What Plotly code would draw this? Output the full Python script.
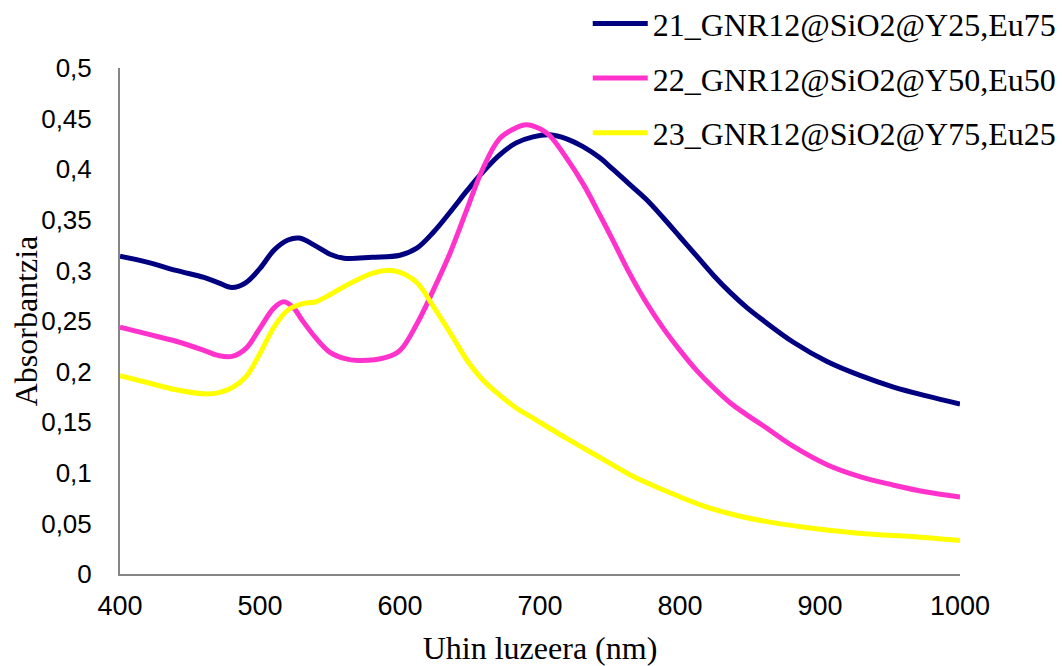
import plotly.graph_objects as go

# ---- data ----
wl_21 = [400, 420, 440, 460, 470, 480, 490, 500, 510, 520, 528, 540, 550, 560, 580, 600,
         612, 624, 636, 648, 659, 671, 683, 695, 707, 719, 731, 743, 752, 764, 776,
         788, 800, 812, 824, 836, 848, 860, 881, 905, 929, 952, 976, 1000]
abs_21 = [0.314, 0.308, 0.300, 0.293, 0.288, 0.283, 0.288, 0.302, 0.320, 0.330, 0.332, 0.324,
          0.316, 0.312, 0.313, 0.315, 0.322, 0.338, 0.358, 0.379, 0.397, 0.414, 0.426,
          0.432, 0.434, 0.430, 0.422, 0.411, 0.400, 0.385, 0.370, 0.352, 0.333, 0.314,
          0.295, 0.278, 0.263, 0.250, 0.229, 0.210, 0.196, 0.185, 0.176, 0.168]

wl_22 = [400, 420, 440, 460, 470, 480, 490, 500, 510, 517, 524, 530, 540, 550, 560,
         570, 590, 600, 612, 624, 636, 648, 659, 671, 683, 690, 700, 707, 719, 731,
         743, 752, 764, 776, 788, 800, 812, 824, 836, 848, 860, 881, 905, 929, 952,
         976, 1000]
abs_22 = [0.244, 0.237, 0.230, 0.221, 0.216, 0.215, 0.223, 0.243, 0.263, 0.269, 0.263,
          0.251, 0.233, 0.219, 0.213, 0.211, 0.214, 0.221, 0.247, 0.281, 0.318, 0.361,
          0.400, 0.430, 0.441, 0.444, 0.440, 0.433, 0.411, 0.385, 0.354, 0.330, 0.297,
          0.268, 0.243, 0.221, 0.201, 0.184, 0.169, 0.157, 0.146, 0.126, 0.108, 0.096,
          0.088, 0.081, 0.076]

wl_23 = [400, 420, 440, 460, 470, 480, 490, 500, 510, 520, 530, 540, 550, 560, 570,
         580, 590, 600, 612, 624, 636, 648, 659, 671, 683, 695, 719, 743, 767, 790,
         815, 840, 865, 890, 915, 940, 965, 1000]
abs_23 = [0.196, 0.189, 0.182, 0.178, 0.179, 0.184, 0.195, 0.218, 0.244, 0.261, 0.267,
          0.269, 0.276, 0.284, 0.291, 0.297, 0.300, 0.298, 0.288, 0.264, 0.238, 0.211,
          0.192, 0.177, 0.164, 0.154, 0.134, 0.115, 0.096, 0.082, 0.068, 0.058, 0.051,
          0.046, 0.042, 0.039, 0.037, 0.033]

names = ["21_GNR12@SiO2@Y25,Eu75", "22_GNR12@SiO2@Y50,Eu50", "23_GNR12@SiO2@Y75,Eu25"]
colors = ["#000080", "#FF33CC", "#FFFF00"]

x_ticks = [400, 500, 600, 700, 800, 900, 1000]
y_ticks = [0, 0.05, 0.1, 0.15, 0.2, 0.25, 0.3, 0.35, 0.4, 0.45, 0.5]
y_labels = ["0", "0,05", "0,1", "0,15", "0,2", "0,25", "0,3", "0,35", "0,4", "0,45", "0,5"]

fig = go.Figure()
for i, (xs, ys) in enumerate([(wl_21, abs_21), (wl_22, abs_22), (wl_23, abs_23)]):
    fig.add_trace(go.Scatter(
        x=xs, y=ys, mode="lines", name=names[i], legendgroup=f"g{i}",
        line=dict(color=colors[i], width=5, shape="spline", smoothing=1.0),
    ))

# the page body adds an 8px offset, so the figure is 8px smaller with margins reduced
fig.update_layout(
    width=1056, height=658,
    margin=dict(l=112, r=104, t=60, b=92, autoexpand=False),
    paper_bgcolor="white", plot_bgcolor="white",
    showlegend=True,
    legend=dict(
        x=0.549 * 1056 / 840 - 112 / 840, y=1.142, xanchor="left", yanchor="top",
        font=dict(family="Liberation Serif", size=32, color="black"),
        traceorder="grouped", tracegroupgap=10, itemwidth=55,
        bgcolor="rgba(0,0,0,0)",
    ),
    xaxis=dict(
        range=[400, 1000], tickvals=x_ticks, ticktext=[str(v) for v in x_ticks],
        showgrid=False, zeroline=False, showline=True, linecolor="#868686", linewidth=2,
        ticks="", ticklabelstandoff=7, automargin=False,
        tickfont=dict(family="Liberation Sans", size=27, color="black"),
        title=dict(text="Uhin luzeera (nm)", standoff=22,
                   font=dict(family="Liberation Serif", size=32, color="black")),
    ),
    yaxis=dict(
        range=[0, 0.5], tickvals=y_ticks, ticktext=y_labels,
        showgrid=False, zeroline=False, showline=True, linecolor="#868686", linewidth=2,
        ticks="", ticklabelstandoff=21, automargin=False,
        tickfont=dict(family="Liberation Sans", size=26, color="black"),
        title=dict(text="Absorbantzia", standoff=1,
                   font=dict(family="Liberation Serif", size=32, color="black")),
    ),
)

fig.write_html("out.html")
